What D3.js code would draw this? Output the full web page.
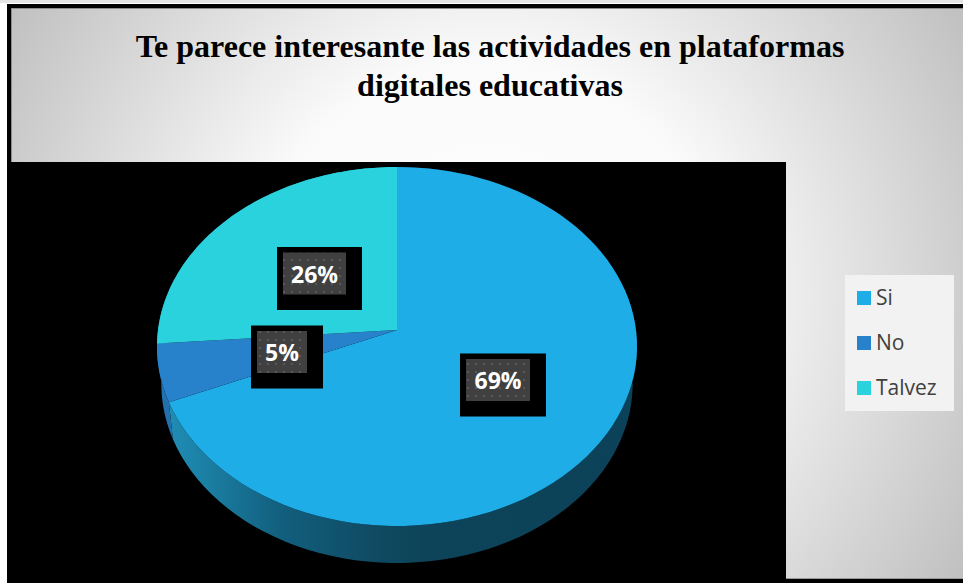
<!DOCTYPE html>
<html><head><meta charset="utf-8">
<style>html,body{margin:0;padding:0;background:#fff;overflow:hidden}svg{display:block}</style>
<script src="https://cdn.jsdelivr.net/npm/d3@7"></script></head>
<body><script>
const titleLines = ["Te parece interesante las actividades en plataformas", "digitales educativas"];
const categories = ["Si", "No", "Talvez"];
const values = [68.6, 5.2, 26.2];
const labels = ["69%", "5%", "26%"];
const colors = ["#1eade7", "#2782cb", "#2ad2de"];
const sideColors = ["url(#sideGrad)", "#2470ad", "#1f9aa3"];

const W = 963, H = 583;
const svg = d3.select("body").append("svg").attr("width", W).attr("height", H);
const defs = svg.append("defs");

const bg = defs.append("radialGradient").attr("id", "bgGrad").attr("gradientUnits", "userSpaceOnUse")
  .attr("cx", 487).attr("cy", 293).attr("r", 555);
[[0, "#ffffff"], [0.42, "#fafafa"], [1, "#c0c0c0"]].forEach(s => bg.append("stop").attr("offset", s[0]).attr("stop-color", s[1]));

const sg = defs.append("linearGradient").attr("id", "sideGrad").attr("gradientUnits", "userSpaceOnUse")
  .attr("x1", 160).attr("x2", 640).attr("y1", 0).attr("y2", 0);
[[0, "#2190b8"], [0.1, "#1b7ea3"], [0.25, "#125f7e"], [0.45, "#0f4a62"], [0.55, "#0d4459"], [1, "#0c4259"]]
  .forEach(s => sg.append("stop").attr("offset", s[0]).attr("stop-color", s[1]));

const pat = defs.append("pattern").attr("id", "dots").attr("patternUnits", "userSpaceOnUse")
  .attr("width", 8).attr("height", 8);
pat.append("rect").attr("width", 8).attr("height", 8).attr("fill", "#404040");
pat.append("rect").attr("x", 3).attr("y", 3).attr("width", 2).attr("height", 2).attr("fill", "#585858");

// frame
svg.append("rect").attr("x", 0).attr("y", 0).attr("width", W).attr("height", 3).attr("fill", "#e4e4e4");
svg.append("rect").attr("x", 7).attr("y", 4).attr("width", W - 7).attr("height", H - 4).attr("fill", "#000");
svg.append("rect").attr("x", 11).attr("y", 8).attr("width", W - 11).attr("height", 154).attr("fill", "url(#bgGrad)");
svg.append("rect").attr("x", 786).attr("y", 162).attr("width", W - 786).attr("height", 417).attr("fill", "url(#bgGrad)");
svg.append("rect").attr("x", 786).attr("y", 578).attr("width", W - 786).attr("height", 1).attr("fill", "#9a9a9a");
svg.append("rect").attr("x", 11).attr("y", 8).attr("width", 1).attr("height", 154).attr("fill", "#8c8c8c");
svg.append("rect").attr("x", 11).attr("y", 8).attr("width", W - 11).attr("height", 1).attr("fill", "#8c8c8c");

// title
svg.append("g").selectAll("text").data(titleLines).join("text")
  .attr("x", 490).attr("y", (d, i) => 57 + i * 39).attr("text-anchor", "middle")
  .attr("font-family", "'Liberation Serif'").attr("font-weight", 700).attr("font-size", 32)
  .attr("fill", "#000").text(d => d);

// pie with perspective projection of the unit disc
const pie = d3.pie().value(d => d).sort(null);
const arcs = pie(values);
const apexX = 397, apexY = 330, k = -0.0919, a = 147.65, c = 239;
const project = (theta, r, sx, dy) => {
  const u = r * Math.sin(theta), v = -r * Math.cos(theta), w = 1 + k * v;
  return [apexX + sx * c * u / w, (a * v + apexY) / w + dy];
};
const steps = d => d3.range(0, 1.0001, 1 / 90).map(t => d.startAngle + t * (d.endAngle - d.startAngle));
const line = d3.line().curve(d3.curveLinear);

// sides: rim of each slice extruded downwards
const depth = 37, sx = 0.982;
const pieG = svg.append("g");
pieG.selectAll("path.side").data(arcs).join("path").attr("class", "side")
  .attr("d", d => {
    const ts = steps(d);
    const topRim = ts.map(t => project(t, 1, 1, 0));
    const botRim = ts.map(t => project(t, 1, sx, depth)).reverse();
    return line(topRim.concat(botRim)) + "Z";
  })
  .attr("fill", (d, i) => sideColors[i]);

pieG.selectAll("path.top").data(arcs).join("path").attr("class", "top")
  .attr("d", d => {
    const pts = steps(d).map(t => project(t, 1, 1, 0));
    return line([[apexX, apexY]].concat(pts)) + "Z";
  })
  .attr("fill", (d, i) => colors[i]);

// data labels (index order: Si, No, Talvez)
const labelX = [498, 282, 314.5];
const labelY = [380, 352, 273.5];
const labelW = [64, 50, 63];
const lab = svg.append("g").selectAll("g").data(labels).join("g");
lab.append("rect").attr("x", (d, i) => labelX[i] - labelW[i] / 2 - 6).attr("y", (d, i) => labelY[i] - 26.5)
  .attr("width", (d, i) => labelW[i] + 22).attr("height", 63).attr("fill", "#000");
lab.append("rect").attr("x", (d, i) => labelX[i] - labelW[i] / 2).attr("y", (d, i) => labelY[i] - 21)
  .attr("width", (d, i) => labelW[i]).attr("height", 42).attr("fill", "url(#dots)");
lab.append("text").attr("x", (d, i) => labelX[i]).attr("y", (d, i) => labelY[i] + 9)
  .attr("text-anchor", "middle").attr("font-family", "'Open Sans'").attr("font-weight", 700)
  .attr("font-size", 23).attr("fill", "#fff").text(d => d);

// legend
const leg = svg.append("g");
leg.append("rect").attr("x", 845).attr("y", 275).attr("width", 109).attr("height", 136).attr("fill", "#f2f2f2");
const ly = d3.scalePoint().domain(categories).range([298, 388]);
leg.selectAll("rect.sw").data(categories).join("rect").attr("class", "sw")
  .attr("x", 857).attr("y", d => ly(d) - 7).attr("width", 14).attr("height", 14)
  .attr("fill", (d, i) => colors[i]);
leg.selectAll("text").data(categories).join("text")
  .attr("x", 876).attr("y", d => ly(d) + 7)
  .attr("font-family", "'Open Sans'").attr("font-size", 21).attr("fill", "#404040").text(d => d);
</script></body></html>
